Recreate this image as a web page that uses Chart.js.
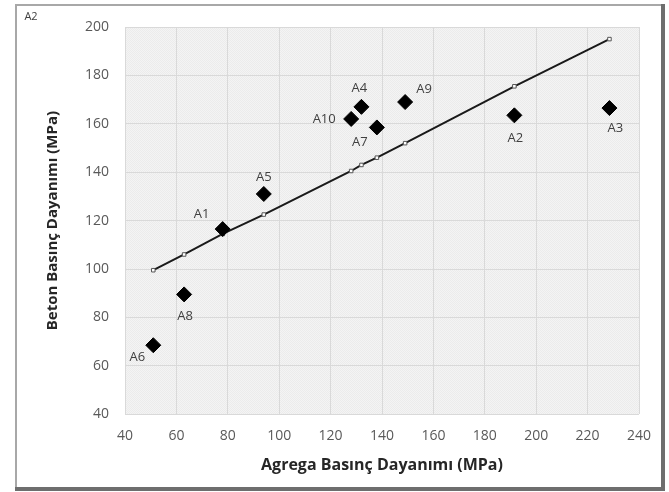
<!DOCTYPE html>
<html>
<head>
<meta charset="utf-8">
<script src="https://cdn.jsdelivr.net/npm/chart.js@4.4.1/dist/chart.umd.min.js"></script>
<style>
  html, body { margin: 0; padding: 0; background: #fff; }
  #wrap { width: 669px; height: 492px; position: relative; }
</style>
</head>
<body>
<div id="wrap"><canvas id="chart"></canvas></div>
<script>
// Samples and measured strengths (MPa)
var samples = ["A1", "A2", "A3", "A4", "A5", "A6", "A7", "A8", "A9", "A10"];
var aggregate = [78, 191.5, 228.5, 132, 94, 51, 138, 63, 149, 128];
var concrete = [116.5, 163.5, 166.5, 167, 131, 68.5, 158.5, 89.5, 169, 162];

// Trend line values
var trendX = [51, 63, 78, 94, 128, 132, 138, 149, 191.5, 228.5];
var trendY = [99.5, 106, 114.5, 122.5, 140.5, 143, 146, 152, 175.5, 195];

// Axis ticks
var xTicks = [40, 60, 80, 100, 120, 140, 160, 180, 200, 220, 240];
var yTicks = [40, 60, 80, 100, 120, 140, 160, 180, 200];

var FONT = "'Open Sans', 'DejaVu Sans', sans-serif";

// where each sample label sits relative to its point
var labelOffset = {
  A1: [-21, -15], A2: [1, 23], A3: [6, 20], A4: [-2, -19], A5: [0, -17],
  A6: [-16, 12], A7: [-17, 15], A8: [1, 22], A9: [19, -13], A10: [-27, 0]
};

var points = [];
for (var i = 0; i < samples.length; i++) {
  points.push({ x: aggregate[i], y: concrete[i] });
}
var trend = [];
for (var i = 0; i < trendX.length; i++) {
  trend.push({ x: trendX[i], y: trendY[i] });
}

// light dotted fill like the original plot area
function plotPattern() {
  var c = document.createElement("canvas");
  c.width = 2; c.height = 2;
  var p = c.getContext("2d");
  p.fillStyle = "#f4f4f4";
  p.fillRect(0, 0, 2, 2);
  p.fillStyle = "#ebebeb";
  p.fillRect(0, 0, 1, 1);
  p.fillRect(1, 1, 1, 1);
  return p.createPattern(c, "repeat");
}

var framePlugin = {
  id: "frame",
  beforeDraw: function (chart) {
    var ctx = chart.ctx;
    var a = chart.chartArea;
    ctx.save();
    ctx.fillStyle = plotPattern();
    ctx.fillRect(a.left, a.top, a.right - a.left, a.bottom - a.top);
    // outer frame
    ctx.strokeStyle = "#a8a8a8";
    ctx.lineWidth = 2;
    ctx.beginPath();
    ctx.moveTo(16, 489);
    ctx.lineTo(16, 5);
    ctx.lineTo(662, 5);
    ctx.stroke();
    ctx.strokeStyle = "#6e6e6e";
    ctx.lineWidth = 4;
    ctx.beginPath();
    ctx.moveTo(663, 4);
    ctx.lineTo(663, 489);
    ctx.lineTo(15, 489);
    ctx.stroke();
    // stray label in the top-left corner
    ctx.fillStyle = "#404040";
    ctx.font = "11px " + FONT;
    ctx.textAlign = "center";
    ctx.textBaseline = "middle";
    ctx.fillText("A2", 31, 17);
    ctx.restore();
  },
  afterDatasetsDraw: function (chart) {
    var ctx = chart.ctx;
    var xs = chart.scales.x, ys = chart.scales.y;
    ctx.save();
    ctx.fillStyle = "#404040";
    ctx.font = "13px " + FONT;
    ctx.textAlign = "center";
    ctx.textBaseline = "middle";
    for (var i = 0; i < samples.length; i++) {
      var off = labelOffset[samples[i]];
      ctx.fillText(samples[i],
        xs.getPixelForValue(aggregate[i]) + off[0],
        ys.getPixelForValue(concrete[i]) + off[1]);
    }
    ctx.restore();
  }
};

var ctx = document.getElementById("chart").getContext("2d");
var chart = new Chart(ctx, {
  type: "scatter",
  data: {
    datasets: [
      {
        label: "Samples",
        data: points,
        pointStyle: "rectRot",
        pointRadius: 7.5,
        backgroundColor: "#000",
        borderColor: "#000",
        borderWidth: 1,
        order: 0
      },
      {
        label: "Trend",
        data: trend,
        showLine: true,
        borderColor: "#1a1a1a",
        borderWidth: 2,
        pointStyle: "rect",
        pointRadius: 2.5,
        pointBackgroundColor: "#fff",
        pointBorderColor: "#555",
        pointBorderWidth: 1,
        order: 1
      }
    ]
  },
  options: {
    responsive: true,
    maintainAspectRatio: false,
    animation: false,
    devicePixelRatio: 1,
    layout: { padding: { left: 45, right: 30, top: 27, bottom: 19 } },
    plugins: {
      legend: { display: false },
      tooltip: { enabled: false }
    },
    scales: {
      x: {
        type: "linear",
        min: 40,
        max: 240,
        afterBuildTicks: function (s) {
          s.ticks = xTicks.map(function (v) { return { value: v }; });
        },
        ticks: { color: "#595959", font: { family: FONT, size: 14 }, padding: 13 },
        grid: { color: "#d9d9d9", drawTicks: false },
        border: { display: false },
        title: {
          display: true,
          text: "Agrega Basınç Dayanımı (MPa)",
          color: "#262626",
          font: { family: FONT, size: 16, weight: "bold", lineHeight: 1 },
          padding: { top: 0, bottom: 0 }
        }
      },
      y: {
        type: "linear",
        min: 40,
        max: 200,
        afterBuildTicks: function (s) {
          s.ticks = yTicks.map(function (v) { return { value: v }; });
        },
        ticks: { color: "#595959", font: { family: FONT, size: 14 }, padding: 16 },
        grid: { color: "#d9d9d9", drawTicks: false },
        border: { display: false },
        title: {
          display: true,
          text: "Beton Basınç Dayanımı (MPa)",
          color: "#262626",
          font: { family: FONT, size: 15, weight: "bold", lineHeight: 1 },
          padding: { top: 0, bottom: 9 }
        }
      }
    }
  },
  plugins: [framePlugin]
});
</script>
</body>
</html>
